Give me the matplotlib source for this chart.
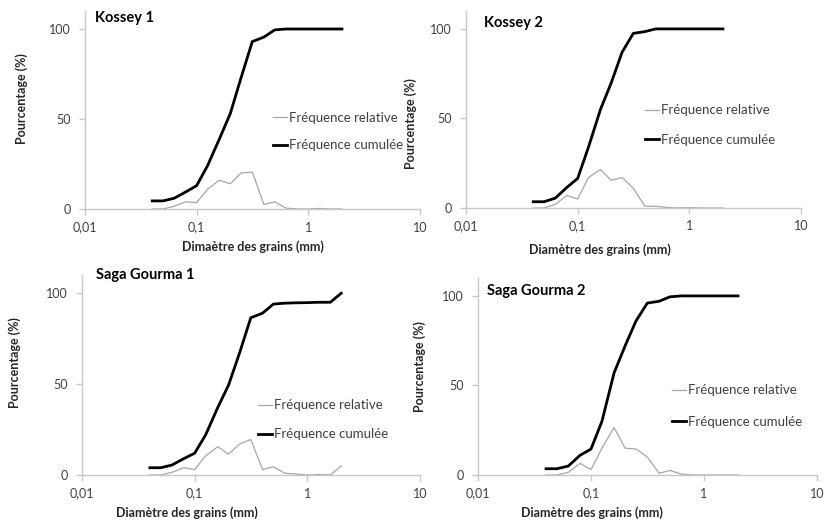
import numpy as np
import matplotlib.pyplot as plt
from matplotlib.ticker import FixedLocator, FixedFormatter, NullLocator

plt.rcParams['font.family'] = ['Lato', 'DejaVu Sans']

# sieve openings (mm)
diam = [0.04, 0.05, 0.063, 0.08, 0.1, 0.125, 0.16, 0.2, 0.25, 0.315,
        0.4, 0.5, 0.63, 0.8, 1, 1.25, 1.6, 2]

kossey1_rel = [0, 0, 1.5, 4, 3.5, 11, 16, 14, 20, 20.5, 2.5, 4, 0.5, 0, 0, 0.3, 0, 0]
kossey1_cum = [4.5, 4.5, 6, 9.5, 13, 24, 39, 53, 73, 93, 95.5, 99.5, 100, 100, 100, 100, 100, 100]

kossey2_rel = [0, 0, 2, 7, 5, 17, 21.5, 15.5, 17, 11, 1, 1, 0.3, 0, 0.2, 0, 0, 0]
kossey2_cum = [3.5, 3.5, 5.5, 11.5, 16.5, 34, 55, 70, 87, 97.5, 98.5, 100, 100, 100, 100, 100, 100, 100]

saga1_rel = [0, 0, 1.5, 4, 3, 10.5, 15.5, 11.5, 17, 19.5, 3, 4.5, 1, 0.5, 0, 0.3, 0, 5]
saga1_cum = [4, 4, 5.5, 9, 12, 22, 37, 49.5, 67, 86.5, 89, 94, 94.5, 94.7, 94.8, 95, 95, 100]

saga2_rel = [0, 0, 1.5, 6.5, 3, 15, 26.5, 15, 14.5, 10, 1, 2.5, 0.5, 0, 0, 0, 0, 0]
saga2_cum = [3.5, 3.5, 5, 11, 14.5, 30, 57, 72, 86, 96, 97, 99.5, 100, 100, 100, 100, 100, 100]

titles = ["Kossey 1", "Kossey 2", "Saga Gourma 1", "Saga Gourma 2"]
xlabels = ["Dimaètre des grains (mm)", "Diamètre des grains (mm)",
           "Diamètre des grains (mm)", "Diamètre des grains (mm)"]
xticks = [0.01, 0.1, 1, 10]
xticklabels = ["0,01", "0,1", "1", "10"]
yticks = [0, 50, 100]

W, H = 827, 520
fig = plt.figure(figsize=(W / 100, H / 100), dpi=100)

# pixel layout of each panel: left, right, bottom, top
boxes = [(85, 420, 209, 11), (466, 801, 208, 11), (82, 420, 475, 275), (478, 817, 475, 278)]
title_pos = [(95, 18), (484, 23), (96, 275), (487, 291)]
xlab_pos = [(0.5, -0.19), (0.4, -0.21), (0.31, -0.19), (0.336, -0.193)]
ylab_pos = [(-0.188, 0.56), (-0.165, 0.43), (-0.198, 0.563), (-0.171, 0.548)]
leg_pos = [(0.561, 0.391), (0.534, 0.421), (0.52, 0.276), (0.572, 0.35)]
leg_space = [1.2, 1.35, 1.3, 1.45]

data = [(kossey1_rel, kossey1_cum), (kossey2_rel, kossey2_cum),
        (saga1_rel, saga1_cum), (saga2_rel, saga2_cum)]

axis_col = '#C8C8C8'
for i, (rel, cum) in enumerate(data):
    l, r, b, t = boxes[i]
    ax = fig.add_axes([l / W, 1 - b / H, (r - l) / W, (b - t) / H])
    ax.plot(diam, rel, color='#A6A6A6', lw=0.9, label='Fréquence relative')
    ax.plot(diam, cum, color='black', lw=2.0, label='Fréquence cumulée')
    ax.set_xscale('log')
    ax.set_xlim(0.01, 10)
    ax.set_ylim(0, 110)
    ax.xaxis.set_major_locator(FixedLocator(xticks))
    ax.xaxis.set_major_formatter(FixedFormatter(xticklabels))
    ax.xaxis.set_minor_locator(NullLocator())
    ax.set_yticks(yticks)
    for s in ['top', 'right']:
        ax.spines[s].set_visible(False)
    for s in ['left', 'bottom']:
        ax.spines[s].set_color(axis_col)
        ax.spines[s].set_linewidth(1.0)
    ax.tick_params(axis='both', colors=axis_col, labelcolor='#404040',
                   labelsize=9, length=4, width=1.0, direction='out')
    ax.tick_params(axis='x', pad=5)
    ax.tick_params(axis='y', pad=6)
    ax.set_xlabel(xlabels[i], fontsize=9, fontweight='bold', color='#262626')
    ax.xaxis.set_label_coords(*xlab_pos[i])
    ax.xaxis.label.set_va('center')
    ax.set_ylabel('Pourcentage (%)', fontsize=9, fontweight='bold', color='#262626')
    ax.yaxis.set_label_coords(*ylab_pos[i])
    ax.yaxis.label.set_va('center')
    ax.legend(loc='center left', bbox_to_anchor=leg_pos[i], frameon=False,
              fontsize=9.5, handlelength=1.1, handletextpad=0.1,
              labelspacing=leg_space[i], borderaxespad=0, borderpad=0,
              labelcolor='#404040')
    tx, ty = title_pos[i]
    fig.text(tx / W, 1 - ty / H, titles[i], fontsize=10.5, fontweight='bold',
             ha='left', va='center', color='black')

fig.savefig('out.png', dpi=100)
